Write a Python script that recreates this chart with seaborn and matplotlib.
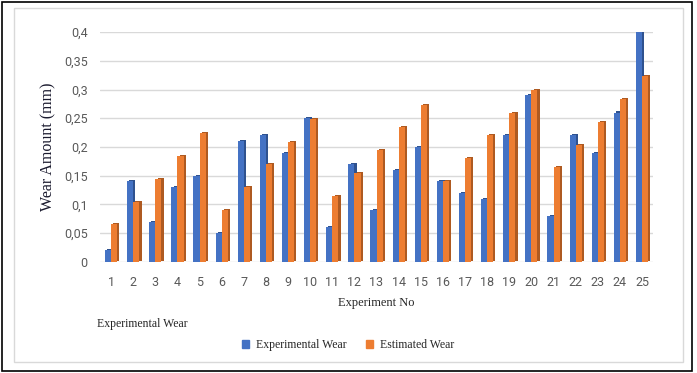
import seaborn as sns
import pandas as pd
import matplotlib.pyplot as plt
import matplotlib.patheffects as pe
from matplotlib.patches import Rectangle

experiment_no = [str(i) for i in range(1, 26)]
experimental_wear = [0.02, 0.14, 0.07, 0.13, 0.15, 0.05, 0.21, 0.22, 0.19, 0.25,
                     0.06, 0.17, 0.09, 0.16, 0.20, 0.14, 0.12, 0.11, 0.22, 0.29,
                     0.08, 0.22, 0.19, 0.26, 0.40]
estimated_wear = [0.066, 0.105, 0.145, 0.185, 0.224, 0.09, 0.13, 0.17, 0.209, 0.248,
                  0.115, 0.155, 0.194, 0.234, 0.273, 0.14, 0.18, 0.22, 0.259, 0.299,
                  0.165, 0.204, 0.244, 0.283, 0.323]
ytick_vals = [0, 0.05, 0.1, 0.15, 0.2, 0.25, 0.3, 0.35, 0.4]
ytick_labels = ["0", "0,05", "0,1", "0,15", "0,2", "0,25", "0,3", "0,35", "0,4"]

df = pd.DataFrame({"Experiment": experiment_no * 2,
                   "Wear": experimental_wear + estimated_wear,
                   "Series": ["Experimental Wear"] * 25 + ["Estimated Wear"] * 25})

sns.set_style("white")
fig = plt.figure(figsize=(6.97, 3.73), dpi=100)
ax = fig.add_axes([0.1435, 0.2976, 0.7935, 0.6166])

palette = {"Experimental Wear": "#4472C4", "Estimated Wear": "#ED7D31"}
sns.barplot(data=df, x="Experiment", y="Wear", hue="Series", palette=palette,
            width=0.55, gap=0, saturation=1, ax=ax, legend=False, zorder=3,
            linewidth=0, edgecolor="none")

# fake the excel 3d side with a dark shadow
n = len(experiment_no)
for i, bar in enumerate(ax.patches):
    side = "#2F528F" if i < n else "#AE5A21"
    bar.set_path_effects([pe.SimplePatchShadow(offset=(1.6, 0.8), shadow_rgbFace=side, alpha=1),
                          pe.Normal()])

ax.set_ylim(0, 0.4)
ax.set_xlim(-0.5, n - 0.5)
ax.set_yticks(ytick_vals)
ax.set_yticklabels(ytick_labels)
ax.yaxis.grid(True, color="#D9D9D9", linewidth=1, zorder=0)
ax.set_axisbelow(True)
for s in ax.spines.values():
    s.set_visible(False)
ax.tick_params(axis="both", length=0, labelsize=9, labelcolor="#595959", pad=10)
ax.tick_params(axis="y", pad=9)
for lab in ax.get_xticklabels() + ax.get_yticklabels():
    lab.set_family("Roboto")
ax.set_xlabel("Experiment No", family="Liberation Serif", fontsize=9, labelpad=6)
ax.set_ylabel("Wear Amount (mm)", family="Liberation Serif", fontsize=11.5, labelpad=5,
              color="#1a1a2e")

fig.text(97 / 697, 1 - 324 / 373, "Experimental Wear", family="Liberation Serif",
         fontsize=8.5, va="center", ha="left")

handles = [Rectangle((0, 0), 1, 1, color=palette[k]) for k in palette]
fig.legend(handles, list(palette), loc="center", bbox_to_anchor=(348 / 697, 1 - 345 / 373),
           ncol=2, frameon=False, prop={"family": "Liberation Serif", "size": 8.5},
           handlelength=0.6, handleheight=0.6, columnspacing=1.6, handletextpad=0.6)

fig.patches.append(Rectangle((14 / 697, 1 - 362 / 373), 669 / 697, 354 / 373, fill=False,
                             edgecolor="#D9D9D9", linewidth=1, transform=fig.transFigure))
fig.patches.append(Rectangle((1.5 / 697, 1 - 371 / 373), 690 / 697, 369.5 / 373, fill=False,
                             edgecolor="black", linewidth=1.2, transform=fig.transFigure))

fig.savefig("out.png", dpi=100)
